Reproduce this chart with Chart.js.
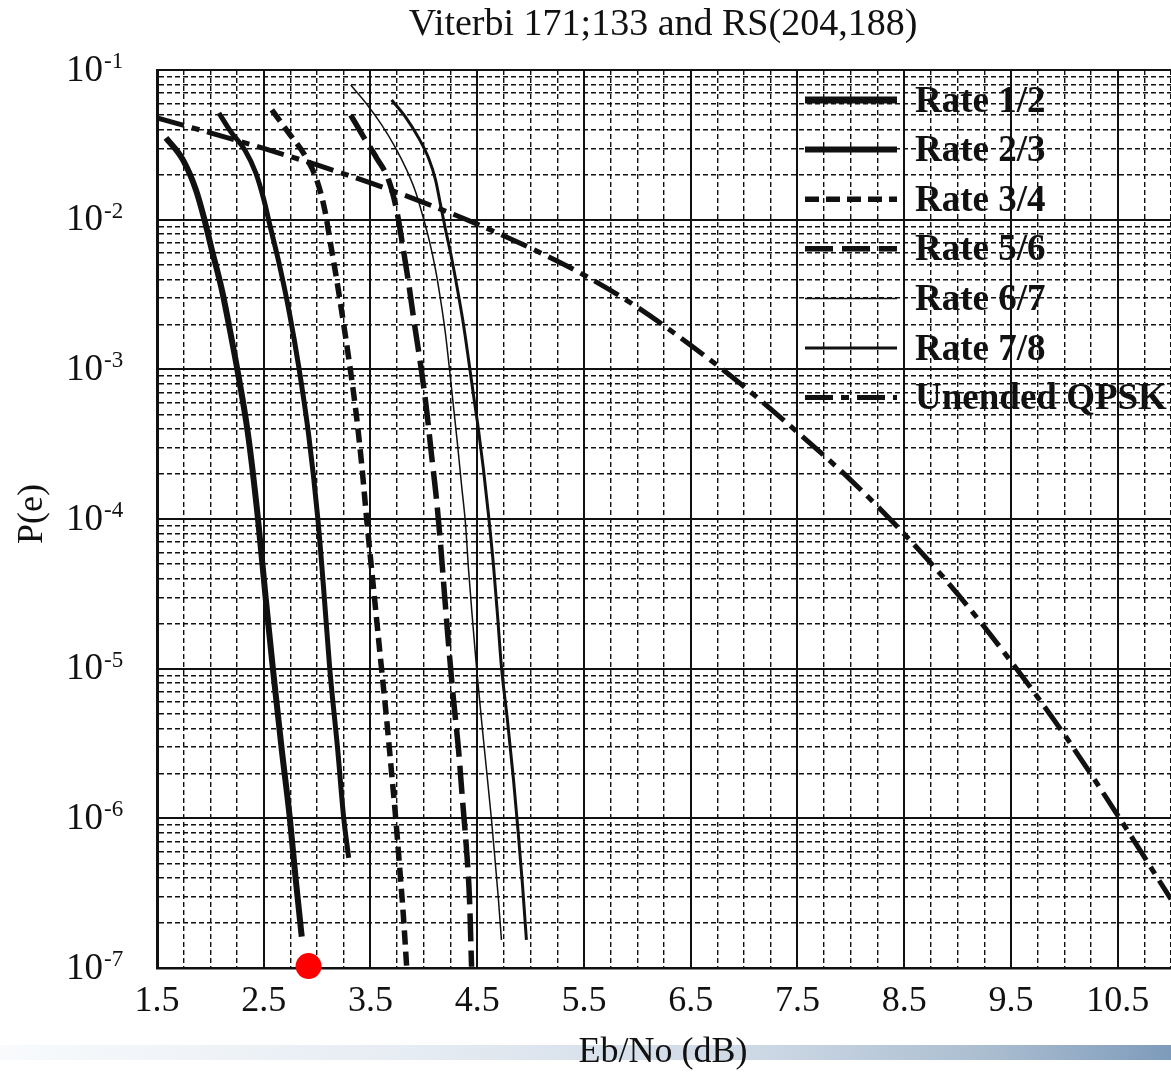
<!DOCTYPE html>
<html>
<head>
<meta charset="utf-8">
<script src="https://cdn.jsdelivr.net/npm/chart.js@4/dist/chart.umd.min.js"></script>
<style>
  html, body { margin: 0; padding: 0; background: #ffffff; overflow: hidden; }
  #wrap { position: relative; width: 1171px; height: 1074px; }
  #band { position: absolute; left: 0; top: 1045px; width: 1171px; height: 15px;
          background: linear-gradient(to right, #f8fafc 0%, #e6ecf3 35%, #cdd8e5 65%, #a9bccf 85%, #7e9bbb 100%); }
  #c { position: absolute; left: 0; top: 0; }
</style>
</head>
<body>
<div id="wrap">
  <div id="band"></div>
  <canvas id="c" width="1171" height="1074"></canvas>
</div>
<script>
// ---------- data ----------
const titleText = 'Viterbi 171;133 and RS(204,188)';
const xTitle = 'Eb/No (dB)';
const yTitle = 'P(e)';
const xTickLabels = ['1.5','2.5','3.5','4.5','5.5','6.5','7.5','8.5','9.5','10.5'];
const yExponents = [-1,-2,-3,-4,-5,-6,-7];

const seriesLabels = ['Rate 1/2','Rate 2/3','Rate 3/4','Rate 5/6','Rate 6/7','Rate 7/8','Unended QPSK'];

const rate12X = [1.584, 1.743, 1.865, 1.94, 2.014, 2.108, 2.201, 2.248, 2.351, 2.445, 2.52, 2.585, 2.669, 2.744, 2.80, 2.856];
const rate12Y = [3.52e-2, 2.51e-2, 1.58e-2, 1.03e-2, 6.28e-3, 3.39e-3, 1.57e-3, 1.04e-3, 3.76e-4, 1.02e-4, 2.88e-5, 1.01e-5, 2.87e-6, 1.01e-6, 3.89e-7, 1.62e-7];

const rate23X = [2.08, 2.192, 2.323, 2.426, 2.501, 2.557, 2.641, 2.744, 2.828, 2.922, 3.006, 3.062, 3.118, 3.193, 3.249, 3.296];
const rate23Y = [5.16e-2, 3.86e-2, 2.92e-2, 2.05e-2, 1.36e-2, 9.22e-3, 5.21e-3, 2.31e-3, 1.04e-3, 3.59e-4, 1.02e-4, 3.36e-5, 1.01e-5, 2.87e-6, 1.01e-6, 5.44e-7];

const rate34X = [2.576, 2.735, 2.884, 2.997, 3.072, 3.128, 3.184, 3.24, 3.296, 3.362, 3.418, 3.465, 3.53, 3.595, 3.652, 3.698, 3.736, 3.773, 3.811, 3.839];
const rate34Y = [5.41e-2, 3.79e-2, 2.70e-2, 1.84e-2, 1.16e-2, 6.78e-3, 3.96e-3, 2.2e-3, 1.19e-3, 5.35e-4, 2.3e-4, 9.86e-5, 3.36e-5, 1.15e-5, 4.55e-6, 2.01e-6, 1.01e-6, 4.74e-7, 2.1e-7, 1.02e-7];

const rate56X = [3.315, 3.436, 3.558, 3.67, 3.745, 3.801, 3.857, 3.913, 3.97, 4.026, 4.072, 4.119, 4.157, 4.194, 4.232, 4.278, 4.325, 4.362, 4.40, 4.428, 4.447];
const rate56Y = [5.0e-2, 3.56e-2, 2.58e-2, 1.84e-2, 1.16e-2, 6.78e-3, 3.78e-3, 1.98e-3, 1.07e-3, 5.35e-4, 2.68e-4, 1.34e-4, 6.72e-5, 3.11e-5, 1.44e-5, 6.19e-6, 2.87e-6, 1.33e-6, 6.17e-7, 2.86e-7, 1.02e-7];

const rate67X = [3.315, 3.464, 3.605, 3.736, 3.839, 3.923, 3.988, 4.054, 4.11, 4.157, 4.204, 4.241, 4.278, 4.316, 4.353, 4.391, 4.419, 4.456, 4.493, 4.54, 4.587, 4.634, 4.671, 4.699, 4.727];
const rate67Y = [7.94e-2, 5.93e-2, 4.3e-2, 3.01e-2, 2.15e-2, 1.53e-2, 1.07e-2, 7.1e-3, 4.61e-3, 2.91e-3, 1.7e-3, 9.91e-4, 5.61e-4, 3.13e-4, 1.69e-4, 9.14e-5, 4.57e-5, 2.12e-5, 1.03e-5, 4.55e-6, 2.11e-6, 9.77e-7, 4.89e-7, 2.86e-7, 1.54e-7];

const rate78X = [3.698, 3.829, 3.951, 4.044, 4.11, 4.157, 4.204, 4.26, 4.316, 4.372, 4.419, 4.465, 4.512, 4.559, 4.606, 4.652, 4.69, 4.727, 4.783, 4.84, 4.886, 4.924, 4.961];
const rate78Y = [6.31e-2, 4.85e-2, 3.52e-2, 2.58e-2, 1.84e-2, 1.25e-2, 8.53e-3, 5.55e-3, 3.39e-3, 1.98e-3, 1.16e-3, 6.75e-4, 3.94e-4, 2.13e-4, 1.06e-4, 4.93e-5, 2.29e-5, 1.03e-5, 4.55e-6, 1.81e-6, 7.76e-7, 3.6e-7, 1.54e-7];

const qpskX = [1.5, 2.0, 2.5, 3.0, 3.5, 4.0, 4.5, 5.0, 5.5, 6.0, 6.5, 7.0, 7.5, 8.0, 8.5, 9.0, 9.5, 10.0, 10.5, 11.0];
const qpskY = [4.79e-2, 3.80e-2, 2.99e-2, 2.32e-2, 1.76e-2, 1.30e-2, 9.33e-3, 6.46e-3, 4.27e-3, 2.6e-3, 1.45e-3, 7.67e-4, 3.8e-4, 1.82e-4, 7.94e-5, 3.16e-5, 1.12e-5, 3.63e-6, 1.05e-6, 2.88e-7];

const markerX = [2.92];
const markerY = [1.03e-7];

// ---------- build ----------
const zip = (xs, ys) => xs.map((v, i) => ({x: v, y: ys[i]}));
const INK = '#111111';
const SERIF = '"Liberation Serif", "Times New Roman", serif';

function lineDs(label, xs, ys, width, dash) {
  return {
    label, data: zip(xs, ys), borderColor: INK, backgroundColor: INK,
    borderWidth: width, borderDash: dash, pointRadius: 0, fill: false,
    cubicInterpolationMode: 'monotone', borderCapStyle: 'butt', borderJoinStyle: 'round'
  };
}

const datasets = [
  lineDs(seriesLabels[0], rate12X, rate12Y, 6, []),
  lineDs(seriesLabels[1], rate23X, rate23Y, 5, []),
  lineDs(seriesLabels[2], rate34X, rate34Y, 5.5, [14, 7]),
  lineDs(seriesLabels[3], rate56X, rate56Y, 5.5, [28, 9]),
  lineDs(seriesLabels[4], rate67X, rate67Y, 1.5, []),
  lineDs(seriesLabels[5], rate78X, rate78Y, 3, []),
  lineDs(seriesLabels[6], qpskX, qpskY, 5, [28, 8, 8, 8]),
  { label: 'marker', isMarker: true, data: zip(markerX, markerY), showLine: false,
    pointRadius: 13, pointHoverRadius: 13, pointBackgroundColor: '#ff0000', pointBorderWidth: 0,
    backgroundColor: '#ff0000', borderColor: '#ff0000', clip: false }
];

const frac = v => { const f = ((v - 1.5) % 1 + 1) % 1; return Math.min(f, 1 - f); };
const isMajorX = v => frac(v) < 1e-6;
const isDecade = v => Math.abs(Math.log10(v) - Math.round(Math.log10(v))) < 1e-6;

const legendPlugin = {
  id: 'customLegend',
  afterDatasetsDraw(chart) {
    const ctx = chart.ctx;
    ctx.save();
    const items = chart.data.datasets.filter(d => !d.isMarker);
    items.forEach((d, i) => {
      const yy = 100 + i * 49.6;
      ctx.beginPath();
      ctx.setLineDash(d.borderDash || []);
      ctx.lineWidth = i === 0 ? 7 : (i === 1 ? 6 : d.borderWidth);
      ctx.strokeStyle = INK;
      ctx.lineCap = 'butt';
      ctx.moveTo(805, yy);
      ctx.lineTo(897, yy);
      ctx.stroke();
      ctx.setLineDash([]);
      ctx.fillStyle = INK;
      ctx.font = 'bold 37px ' + SERIF;
      ctx.textAlign = 'left';
      ctx.textBaseline = 'middle';
      ctx.fillText(d.label, 915, yy + 2);
    });
    ctx.restore();
  }
};

const textPlugin = {
  id: 'texts',
  afterDraw(chart) {
    const ctx = chart.ctx;
    const ys = chart.scales.y;
    ctx.save();
    ctx.fillStyle = INK;
    ctx.textAlign = 'center';
    ctx.textBaseline = 'middle';
    ctx.font = '38px ' + SERIF;
    ctx.fillText(titleText, 663, 25);
    ctx.font = '36px ' + SERIF;
    ctx.fillText(xTitle, 663, 1053);
    ctx.save();
    ctx.translate(33, 514);
    ctx.rotate(-Math.PI / 2);
    ctx.fillText(yTitle, 0, 0);
    ctx.restore();
    yExponents.forEach(e => {
      const py = ys.getPixelForValue(Math.pow(10, e));
      ctx.font = '37px ' + SERIF;
      ctx.textAlign = 'right';
      ctx.textBaseline = 'middle';
      ctx.fillText('10', 103, py + 1);
      ctx.font = '23px ' + SERIF;
      ctx.textAlign = 'left';
      ctx.textBaseline = 'alphabetic';
      ctx.fillText(String(e), 104, py - 2);
    });
    ctx.restore();
  }
};

new Chart(document.getElementById('c'), {
  type: 'line',
  data: { datasets },
  plugins: [legendPlugin, textPlugin],
  options: {
    responsive: false,
    animation: false,
    devicePixelRatio: 1,
    layout: { autoPadding: false, padding: { top: 70, right: 0, left: 0, bottom: 0 } },
    plugins: { legend: { display: false }, title: { display: false }, tooltip: { enabled: false } },
    scales: {
      x: {
        type: 'linear', min: 1.5, max: 11,
        afterFit: s => { s.height = 106; s.paddingRight = 0; s.paddingLeft = 0; },
        ticks: {
          stepSize: 0.25, autoSkip: false, maxRotation: 0, padding: 12,
          color: INK, font: { family: SERIF, size: 36 },
          callback: v => {
            const s = Number(v).toFixed(1);
            return (isMajorX(v) && xTickLabels.includes(s)) ? s : '';
          }
        },
        grid: {
          drawTicks: false, color: INK,
          lineWidth: c => (c.tick && isMajorX(c.tick.value)) ? 2 : 1.4
        },
        border: {
          display: true, color: INK, width: 2.5,
          dash: c => (c.tick && !isMajorX(c.tick.value)) ? [5, 3] : []
        }
      },
      y: {
        type: 'logarithmic', min: 1e-7, max: 1e-1,
        afterFit: s => { s.width = 157; s.paddingTop = 0; s.paddingBottom = 0; },
        afterBuildTicks: s => {
          const t = [];
          for (let e = -7; e <= -1; e++) {
            for (let m = 1; m <= 9; m++) {
              const v = m * Math.pow(10, e);
              if (v <= 1e-1 * 1.0000001) t.push({ value: v });
            }
          }
          s.ticks = t;
        },
        ticks: { display: false, callback: () => '' },
        grid: {
          drawTicks: false, color: INK,
          lineWidth: c => (c.tick && isDecade(c.tick.value)) ? 2 : 1.4
        },
        border: {
          display: true, color: INK, width: 3,
          dash: c => (c.tick && !isDecade(c.tick.value)) ? [5, 3] : []
        }
      }
    }
  }
});
</script>
</body>
</html>
